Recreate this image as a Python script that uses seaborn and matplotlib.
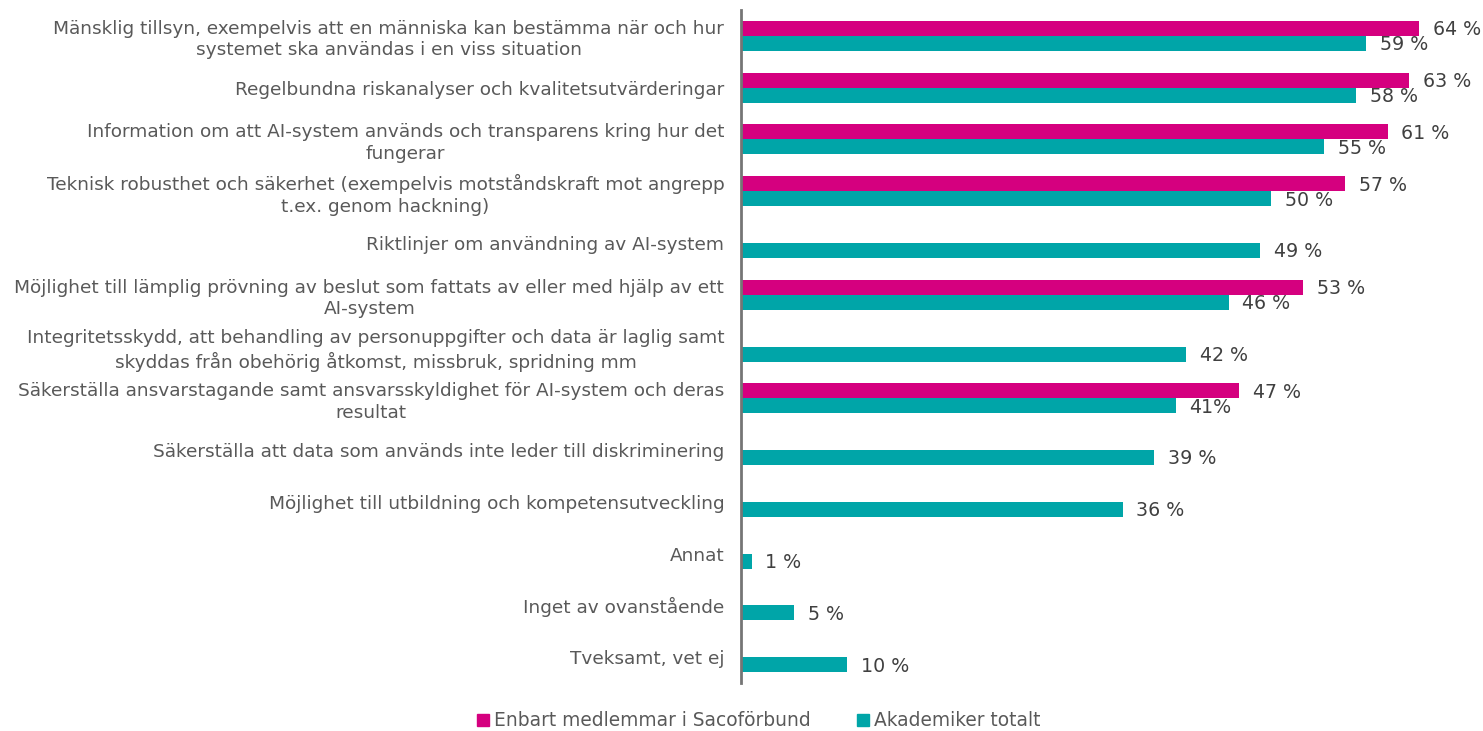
import numpy as np
import pandas as pd
import matplotlib.pyplot as plt
import seaborn as sns
from matplotlib.lines import Line2D

categories = [
    "Mänsklig tillsyn, exempelvis att en människa kan bestämma när och hur\nsystemet ska användas i en viss situation",
    "Regelbundna riskanalyser och kvalitetsutvärderingar",
    "Information om att AI-system används och transparens kring hur det\nfungerar",
    "Teknisk robusthet och säkerhet (exempelvis motståndskraft mot angrepp\nt.ex. genom hackning)",
    "Riktlinjer om användning av AI-system",
    "Möjlighet till lämplig prövning av beslut som fattats av eller med hjälp av ett\nAI-system",
    "Integritetsskydd, att behandling av personuppgifter och data är laglig samt\nskyddas från obehörig åtkomst, missbruk, spridning mm",
    "Säkerställa ansvarstagande samt ansvarsskyldighet för AI-system och deras\nresultat",
    "Säkerställa att data som används inte leder till diskriminering",
    "Möjlighet till utbildning och kompetensutveckling",
    "Annat",
    "Inget av ovanstående",
    "Tveksamt, vet ej",
]

saco = [64, 63, 61, 57, np.nan, 53, np.nan, 47, np.nan, np.nan, np.nan, np.nan, np.nan]
totalt = [59, 58, 55, 50, 49, 46, 42, 41, 39, 36, 1, 5, 10]

saco_labels = ["64 %", "63 %", "61 %", "57 %", "", "53 %", "", "47 %", "", "", "", "", ""]
totalt_labels = ["59 %", "58 %", "55 %", "50 %", "49 %", "46 %", "42 %", "41%", "39 %", "36 %", "1 %", "5 %", "10 %"]

series = ["Enbart medlemmar i Sacoförbund", "Akademiker totalt"]
colors = ["#D5007F", "#00A5A8"]

df = pd.DataFrame({
    "kategori": categories * 2,
    "serie": [series[0]] * len(categories) + [series[1]] * len(categories),
    "andel": saco + totalt,
})

fig = plt.figure(figsize=(14.83, 7.31), dpi=100)
ax = fig.add_axes([741 / 1483, 48 / 731, 742 / 1483, 673 / 731])

sns.barplot(data=df, y="kategori", x="andel", hue="serie", hue_order=series,
            palette=colors, orient="h", width=0.58, ax=ax, legend=False,
            saturation=1, errorbar=None)

# value labels, matched to each bar's category
for container, labels in zip(ax.containers, [saco_labels, totalt_labels]):
    for bar in container.patches:
        w = bar.get_width()
        if not np.isfinite(w) or w == 0:
            continue
        idx = int(round(bar.get_y() + bar.get_height() / 2))
        ax.annotate(labels[idx], (w, bar.get_y() + bar.get_height() / 2),
                    xytext=(10, -1), textcoords="offset points",
                    va="center", ha="left", fontsize=13.7, color="#404040")

ax.set_xlim(0, 70)
ax.set_xlabel("")
ax.set_ylabel("")
ax.set_xticks([])
ax.tick_params(axis="y", length=0, pad=12, labelsize=13.3, labelcolor="#595959")
for t in ax.get_yticklabels():
    t.set_multialignment("center")
    t.set_linespacing(1.25)

for s in ["top", "right", "bottom"]:
    ax.spines[s].set_visible(False)
ax.spines["left"].set_color("#757575")
ax.spines["left"].set_linewidth(2)
ax.set_facecolor("none")

handles = [Line2D([], [], marker="s", linestyle="", markersize=8, color=c) for c in colors]
fig.legend(handles, series, loc="center", bbox_to_anchor=(0.512, 0.014), ncol=2,
           frameon=False, fontsize=13.4, labelcolor="#595959", handlelength=0.6,
           handletextpad=0.3, columnspacing=2.5)

fig.savefig("out.png", dpi=100)
